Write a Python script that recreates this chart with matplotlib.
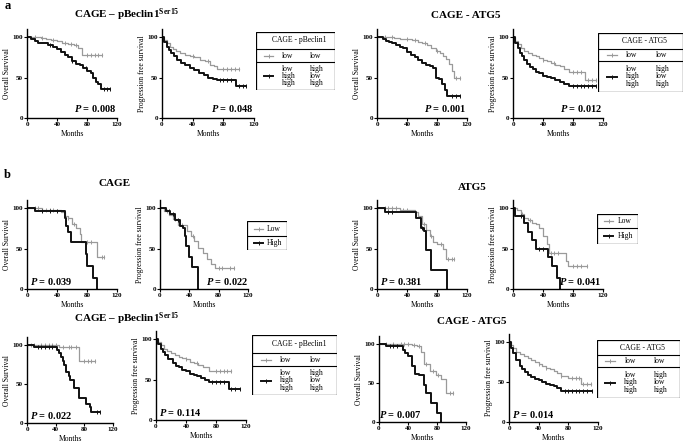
import numpy as np
import matplotlib
matplotlib.use("Agg")
import matplotlib.pyplot as plt
from matplotlib.patches import Rectangle

plt.rcParams['font.family'] = ['Liberation Serif', 'DejaVu Serif']
plt.rcParams['font.weight'] = 'bold'
plt.rcParams['mathtext.fontset'] = 'custom'
plt.rcParams['mathtext.rm'] = 'Liberation Serif:bold'
plt.rcParams['mathtext.it'] = 'Liberation Serif:bold:italic'

# ---- data: KM steps (months, % surviving) and censor times ----
# a, CAGE - pBeclin1
a1_os_low_t = [0, 18, 25, 32, 40, 46, 55, 62, 68, 73, 100]
a1_os_low_s = [100, 99, 98, 96, 95, 93, 91, 90, 86, 78, 78]
a1_os_low_c = [10, 20, 35, 50, 58, 65, 80, 85, 90, 95, 100]
a1_os_high_t = [0, 5, 10, 15, 20, 28, 35, 40, 45, 50, 55, 60, 65, 70, 75, 80, 85, 88, 92, 95, 98, 110]
a1_os_high_s = [100, 97, 95, 93, 92, 90, 88, 85, 82, 78, 75, 70, 67, 65, 62, 58, 55, 50, 45, 42, 36, 36]
a1_os_high_c = [30, 60, 78, 102, 106, 110]
a1_pfs_low_t = [0, 3, 6, 10, 14, 18, 24, 30, 36, 42, 50, 56, 62, 68, 72, 100]
a1_pfs_low_s = [100, 96, 92, 88, 85, 83, 80, 78, 76, 75, 72, 70, 66, 64, 61, 61]
a1_pfs_low_c = [40, 60, 80, 85, 90, 95, 100]
a1_pfs_high_t = [0, 3, 6, 9, 12, 16, 20, 25, 30, 36, 42, 48, 55, 60, 66, 72, 96, 110]
a1_pfs_high_s = [100, 94, 88, 84, 80, 76, 72, 68, 65, 62, 59, 56, 53, 50, 48, 47, 39, 39]
a1_pfs_high_c = [75, 80, 85, 90, 100, 105, 110]

# a, CAGE - ATG5
a2_os_low_t = [0, 22, 30, 38, 46, 54, 60, 66, 72, 78, 84, 88, 92, 96, 100, 103, 110]
a2_os_low_s = [100, 99, 98, 97, 96, 94, 92, 90, 86, 83, 80, 76, 73, 67, 58, 50, 50]
a2_os_low_c = [10, 20, 40, 50, 64, 80, 105, 110]
a2_os_high_t = [0, 8, 12, 16, 20, 25, 30, 35, 40, 45, 50, 55, 60, 65, 70, 75, 78, 82, 86, 90, 93, 110]
a2_os_high_s = [100, 97, 95, 94, 92, 90, 88, 86, 82, 78, 75, 72, 68, 65, 64, 62, 50, 48, 42, 35, 27, 27]
a2_os_high_c = [100, 105, 110]
a2_pfs_low_t = [0, 3, 6, 10, 15, 20, 25, 30, 35, 40, 45, 50, 56, 62, 68, 74, 96, 110]
a2_pfs_low_s = [100, 95, 91, 87, 83, 80, 78, 76, 74, 72, 70, 68, 66, 64, 60, 57, 47, 47]
a2_pfs_low_c = [40, 55, 80, 85, 90, 100, 105, 110]
a2_pfs_high_t = [0, 3, 6, 9, 12, 15, 18, 22, 26, 30, 35, 40, 45, 50, 56, 62, 68, 75, 110]
a2_pfs_high_s = [100, 92, 86, 80, 76, 72, 67, 63, 60, 57, 55, 52, 51, 49, 47, 45, 42, 40, 40]
a2_pfs_high_c = [80, 85, 90, 95, 100, 105, 110]

# b, CAGE
b1_os_low_t = [0, 20, 40, 45, 50, 55, 60, 65, 70, 72, 93, 103]
b1_os_low_s = [100, 98, 97, 95, 90, 88, 80, 75, 68, 58, 39, 39]
b1_os_low_c = [10, 15, 20, 25, 30, 35, 55, 62, 80, 85, 100, 103]
b1_os_high_t = [0, 10, 50, 52, 55, 58, 78, 80, 88, 93]
b1_os_high_s = [100, 96, 88, 78, 70, 58, 43, 29, 14, 0]
b1_os_high_c = [20, 30, 40]
b1_pfs_low_t = [0, 5, 12, 18, 25, 37, 42, 46, 52, 58, 64, 69, 75, 101]
b1_pfs_low_s = [100, 96, 91, 86, 79, 72, 66, 59, 51, 44, 37, 31, 26, 26]
b1_pfs_low_c = [10, 20, 30, 45, 80, 85, 95, 101]
b1_pfs_high_t = [0, 8, 14, 20, 27, 32, 34, 36, 39, 43, 52]
b1_pfs_high_s = [100, 96, 92, 85, 78, 75, 65, 53, 40, 27, 0]
b1_pfs_high_c = [12, 18, 24]

# b, ATG5
b2_os_low_t = [0, 30, 45, 50, 55, 60, 65, 70, 75, 80, 88, 92, 103]
b2_os_low_s = [100, 98, 97, 95, 90, 80, 73, 65, 58, 55, 50, 37, 37]
b2_os_low_c = [10, 15, 20, 25, 35, 40, 62, 72, 85, 95, 100, 103]
b2_os_high_t = [0, 10, 52, 58, 62, 65, 72, 93]
b2_os_high_s = [100, 95, 88, 75, 72, 48, 24, 0]
b2_os_high_c = [15, 20, 60]
b2_pfs_low_t = [0, 5, 10, 15, 20, 25, 30, 35, 40, 45, 48, 70, 73, 98]
b2_pfs_low_s = [100, 97, 92, 88, 85, 82, 80, 75, 65, 55, 45, 35, 28, 28]
b2_pfs_low_c = [12, 22, 50, 55, 60, 80, 85, 90, 98]
b2_pfs_high_t = [0, 3, 15, 20, 25, 30, 47, 52, 58, 62]
b2_pfs_high_s = [100, 90, 82, 70, 60, 50, 40, 28, 14, 0]
b2_pfs_high_c = [10, 35, 40]

# b, CAGE - pBeclin1 (second row)
c1_os_low_t = [0, 45, 55, 72, 95]
c1_os_low_s = [100, 98, 97, 80, 80]
c1_os_low_c = [5, 10, 20, 25, 30, 35, 40, 50, 58, 62, 68, 80, 85, 90, 95]
c1_os_high_t = [0, 10, 42, 45, 48, 50, 52, 55, 58, 60, 65, 72, 83, 88, 90, 102]
c1_os_high_s = [100, 97, 93, 90, 85, 80, 75, 65, 60, 55, 45, 32, 25, 20, 14, 14]
c1_os_high_c = [15, 20, 25, 30, 35, 98, 102]
c1_pfs_low_t = [0, 3, 6, 10, 15, 20, 25, 30, 35, 40, 45, 50, 56, 62, 70, 100]
c1_pfs_low_s = [100, 96, 92, 88, 85, 83, 80, 78, 76, 75, 72, 70, 68, 66, 60, 60]
c1_pfs_low_c = [40, 55, 80, 85, 90, 95, 100]
c1_pfs_high_t = [0, 3, 6, 9, 12, 16, 22, 26, 30, 35, 40, 45, 50, 55, 60, 65, 70, 97, 112]
c1_pfs_high_s = [100, 94, 88, 84, 80, 75, 70, 67, 65, 62, 60, 57, 55, 54, 52, 50, 47, 38, 38]
c1_pfs_high_c = [75, 80, 85, 90, 100, 105, 112]

# b, CAGE - ATG5 (second row)
c2_os_low_t = [0, 45, 52, 58, 62, 70, 78, 85, 92, 102]
c2_os_low_s = [100, 99, 97, 90, 75, 65, 60, 55, 37, 37]
c2_os_low_c = [10, 20, 30, 35, 40, 48, 55, 65, 75, 82, 98, 102]
c2_os_high_t = [0, 10, 33, 36, 40, 45, 50, 55, 62, 65, 72, 80, 85]
c2_os_high_s = [100, 97, 92, 88, 85, 72, 62, 60, 48, 37, 24, 12, 0]
c2_os_high_c = [15, 20, 25]
c2_pfs_low_t = [0, 3, 6, 10, 15, 20, 25, 30, 35, 40, 45, 50, 55, 60, 65, 70, 80, 97, 110]
c2_pfs_low_s = [100, 96, 92, 88, 85, 82, 80, 78, 75, 73, 70, 68, 66, 64, 61, 58, 55, 47, 47]
c2_pfs_low_c = [40, 50, 70, 85, 90, 95, 100, 105, 110]
c2_pfs_high_t = [0, 3, 6, 10, 15, 18, 22, 26, 30, 35, 40, 45, 50, 55, 60, 65, 70, 112]
c2_pfs_high_s = [100, 93, 86, 78, 70, 66, 62, 59, 56, 54, 52, 50, 48, 46, 45, 42, 39, 39]
c2_pfs_high_c = [75, 80, 85, 90, 95, 100, 105, 112]

p_values = ["0.008", "0.048", "0.001", "0.012", "0.039", "0.022", "0.381", "0.041",
            "0.022", "0.114", "0.007", "0.014"]

GRAY = "#9a9a9a"
BLACK = "#111111"
W, H = 685, 445

fig = plt.figure(figsize=(6.85, 4.45), dpi=100)


def add_ax(x0, x120, y100, y0):
    h = (y0 - y100) * 1.1
    ax = fig.add_axes([x0 / W, 1 - y0 / H, (x120 - x0) / W, h / H])
    ax.set_xlim(0, 120)
    ax.set_ylim(0, 110)
    ax.set_xticks([0, 40, 80, 120])
    ax.set_yticks([0, 50, 100])
    for sp in ['top', 'right']:
        ax.spines[sp].set_visible(False)
    for sp in ['left', 'bottom']:
        ax.spines[sp].set_linewidth(1.0)
    ax.tick_params(direction='out', length=2, width=0.8, labelsize=5, pad=1)
    ax.set_xlabel("Months", fontsize=5.5, labelpad=2)
    return ax


def km(ax, t, s, cens, color, lw):
    t = np.array(t)
    s = np.array(s)
    ax.step(t, s, where='post', color=color, lw=lw)
    cy = s[np.searchsorted(t, cens, side='right') - 1]
    ax.plot(cens, cy, ls='none', marker='|', ms=2.2, mew=0.7, color=color)


def plot_pair(pos, low, high, ylab, p, px, py, ha):
    ax = add_ax(*pos)
    km(ax, *low, GRAY, 0.9)
    km(ax, *high, BLACK, 1.4)
    ax.set_ylabel(ylab, fontsize=5.5, labelpad=1)
    ax.text(px, py, r"$\mathit{P}$ = " + p, fontsize=7.5, ha=ha, va='center')
    return ax


def legend_ax(l, t, r, b):
    lax = fig.add_axes([l / W, 1 - b / H, (r - l) / W, (b - t) / H], zorder=5)
    lax.set_xlim(0, r - l)
    lax.set_ylim(b - t, 0)
    lax.axis('off')
    lax.add_patch(Rectangle((0, 0), r - l, b - t, fc='white', ec='black', lw=0.9))
    return lax


def sample(lax, x0, x1, y, color, lw):
    lax.plot([x0, x1], [y, y], color=color, lw=lw)
    lax.plot([(x0 + x1) / 2], [y], marker='|', ms=2.2, mew=0.7, color=color)


def box_legend(l, t, r, b, d1, d2, header):
    lax = legend_ax(l, t, r, b)
    w, h = r - l, b - t
    d1, d2 = d1 - t, d2 - t
    lax.plot([0, w], [d1, d1], color='black', lw=0.8)
    lax.plot([0, w], [d2, d2], color='black', lw=0.8)
    kw = dict(fontsize=5.5, fontweight='normal', va='center')
    lax.text(w * 0.55, d1 / 2, header, ha='center', **kw)
    ym = (d1 + d2) / 2
    sample(lax, w * 0.1, w * 0.22, ym, GRAY, 0.9)
    lax.text(w * 0.33, ym, "low", **kw)
    lax.text(w * 0.68, ym, "low", **kw)
    y3 = (d2 + h) / 2
    sample(lax, w * 0.1, w * 0.22, y3, BLACK, 1.4)
    lax.text(w * 0.33, y3, "low\nhigh\nhigh", linespacing=0.85, **kw)
    lax.text(w * 0.68, y3, "high\nlow\nhigh", linespacing=0.85, **kw)


def two_legend(l, t, r, b, d):
    lax = legend_ax(l, t, r, b)
    w, h = r - l, b - t
    d = d - t
    lax.plot([0, w], [d, d], color='black', lw=0.8)
    kw = dict(fontsize=5.5, fontweight='normal', va='center')
    sample(lax, w * 0.18, w * 0.4, d / 2, GRAY, 0.9)
    lax.text(w * 0.5, d / 2, "Low", **kw)
    sample(lax, w * 0.18, w * 0.4, (d + h) / 2, BLACK, 1.4)
    lax.text(w * 0.5, (d + h) / 2, "High", **kw)


OS = "Overall Survival"
PFS = "Progression free survival"
ser = r"CAGE – pBeclin1$^{\mathrm{Ser15}}$"

# panel a
plot_pair((27, 117, 37, 118), (a1_os_low_t, a1_os_low_s, a1_os_low_c),
          (a1_os_high_t, a1_os_high_s, a1_os_high_c), OS, p_values[0], 119, 12, 'right')
plot_pair((162, 254, 37, 118), (a1_pfs_low_t, a1_pfs_low_s, a1_pfs_low_c),
          (a1_pfs_high_t, a1_pfs_high_s, a1_pfs_high_c), PFS, p_values[1], 119, 12, 'right')
plot_pair((377, 467, 37, 118), (a2_os_low_t, a2_os_low_s, a2_os_low_c),
          (a2_os_high_t, a2_os_high_s, a2_os_high_c), OS, p_values[2], 119, 12, 'right')
plot_pair((513, 603, 37, 118), (a2_pfs_low_t, a2_pfs_low_s, a2_pfs_low_c),
          (a2_pfs_high_t, a2_pfs_high_s, a2_pfs_high_c), PFS, p_values[3], 119, 12, 'right')
box_legend(256, 32, 335, 90, 49, 62, "CAGE - pBeclin1")
box_legend(598, 33, 683, 92, 49, 61, "CAGE - ATG5")

# panel b, first row
plot_pair((27, 117, 208, 289), (b1_os_low_t, b1_os_low_s, b1_os_low_c),
          (b1_os_high_t, b1_os_high_s, b1_os_high_c), OS, p_values[4], 4, 9, 'left')
plot_pair((160, 248, 208, 289), (b1_pfs_low_t, b1_pfs_low_s, b1_pfs_low_c),
          (b1_pfs_high_t, b1_pfs_high_s, b1_pfs_high_c), PFS, p_values[5], 120, 9, 'right')
plot_pair((377, 467, 208, 289), (b2_os_low_t, b2_os_low_s, b2_os_low_c),
          (b2_os_high_t, b2_os_high_s, b2_os_high_c), OS, p_values[6], 4, 9, 'left')
plot_pair((513, 603, 208, 289), (b2_pfs_low_t, b2_pfs_low_s, b2_pfs_low_c),
          (b2_pfs_high_t, b2_pfs_high_s, b2_pfs_high_c), PFS, p_values[7], 118, 9, 'right')
two_legend(247, 221, 287, 250, 236)
two_legend(597, 214, 638, 244, 228)

# panel b, second row
plot_pair((27, 113, 345, 423), (c1_os_low_t, c1_os_low_s, c1_os_low_c),
          (c1_os_high_t, c1_os_high_s, c1_os_high_c), OS, p_values[8], 4, 9, 'left')
plot_pair((156, 246, 339, 420), (c1_pfs_low_t, c1_pfs_low_s, c1_pfs_low_c),
          (c1_pfs_high_t, c1_pfs_high_s, c1_pfs_high_c), PFS, p_values[9], 4, 9, 'left')
plot_pair((379, 466, 344, 422), (c2_os_low_t, c2_os_low_s, c2_os_low_c),
          (c2_os_high_t, c2_os_high_s, c2_os_high_c), OS, p_values[10], 0, 9, 'left')
plot_pair((509, 598, 342, 422), (c2_pfs_low_t, c2_pfs_low_s, c2_pfs_low_c),
          (c2_pfs_high_t, c2_pfs_high_s, c2_pfs_high_c), PFS, p_values[11], 4, 9, 'left')
box_legend(252, 335, 337, 395, 353, 366, "CAGE - pBeclin1")
box_legend(597, 340, 680, 398, 355, 367, "CAGE - ATG5")

# titles and panel letters
tkw = dict(fontsize=8, ha='center', va='center')
fig.text(127 / W, 1 - 15 / H, ser, **tkw)
fig.text(466 / W, 1 - 15 / H, "CAGE - ATG5", **tkw)
fig.text(115 / W, 1 - 183 / H, "CAGE", **tkw)
fig.text(472 / W, 1 - 188 / H, "ATG5", **tkw)
fig.text(127 / W, 1 - 319 / H, ser, **tkw)
fig.text(472 / W, 1 - 322 / H, "CAGE - ATG5", **tkw)
fig.text(5 / W, 1 - 6 / H, "a", fontsize=9, va='center')
fig.text(4 / W, 1 - 175 / H, "b", fontsize=9, va='center')

fig.savefig("out.png", dpi=100)
